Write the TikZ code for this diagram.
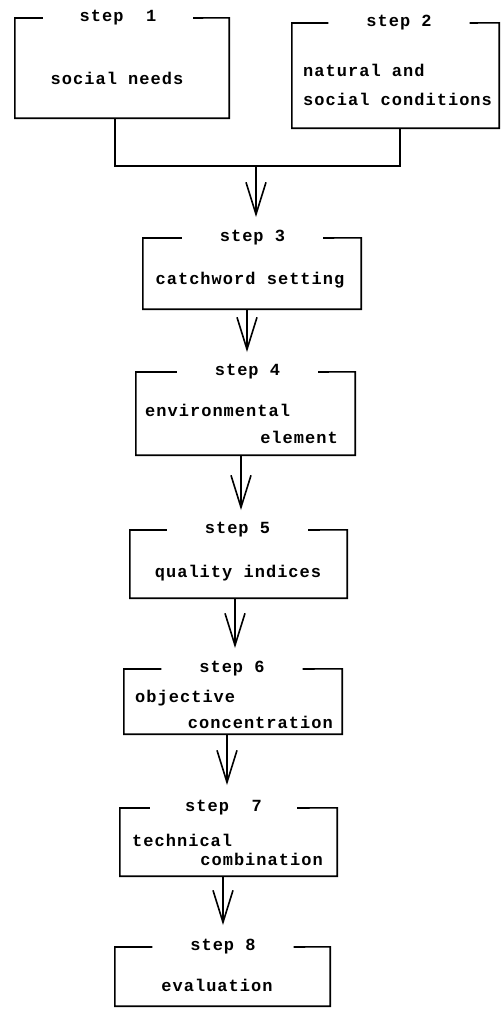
\documentclass[tikz,border=0pt]{standalone}
\usepackage{fontspec}
\newfontfamily\typed{Liberation Mono}[LetterSpace=6]
\usetikzlibrary{arrows.meta}
\begin{document}
\begin{tikzpicture}[x=1pt,y=-1pt,
  every node/.style={font=\typed\bfseries\fontsize{17}{20}\selectfont, inner sep=0pt},
  box/.style={rectangle, draw=none},
  title/.style={minimum width=141pt, minimum height=14pt},
  frame/.style={line width=1.6pt, line join=miter},
  link/.style={line width=1.6pt},
  flow/.style={line width=1.6pt, -{Straight Barb[length=32pt,width=20pt,line width=1.6pt]}},
]
\fill[white] (0,0) rectangle (501,1013);
\useasboundingbox (0,0) rectangle (501,1013);

% step 1
\node[box, minimum width=214pt, minimum height=100pt] (s1) at (122,68) {};
\node[title, minimum width=150pt] (t1) at (118,18) {step\ \ 1};
\draw[frame] (t1.west) -| (s1.south west) -| (s1.north east) -- (t1.east);
\node (b1) at (117,78) {social needs};

% step 2
\node[box, minimum width=207pt, minimum height=105pt] (s2) at (395.5,75.5) {};
\node[title] (t2) at (399,23) {step 2};
\draw[frame] (t2.west) -| (s2.south west) -| (s2.north east) -- (t2.east);
\node[anchor=west] (b2a) at (303,70) {natural and};
\node[anchor=west] (b2b) at (303,99) {social conditions};

% step 3
\node[box, minimum width=218pt, minimum height=71pt] (s3) at (252,273.5) {};
\node[title] (t3) at (252.5,238) {step 3};
\draw[frame] (t3.west) -| (s3.south west) -| (s3.north east) -- (t3.east);
\node (b3) at (250,280) {catchword setting};

% step 4
\node[box, minimum width=219pt, minimum height=83pt] (s4) at (245.5,413.5) {};
\node[title] (t4) at (247.5,372) {step 4};
\draw[frame] (t4.west) -| (s4.south west) -| (s4.north east) -- (t4.east);
\node[anchor=west] (b4a) at (145,410) {environmental};
\node[anchor=east] (b4b) at (338,437) {element};

% step 5
\node[box, minimum width=217pt, minimum height=68pt] (s5) at (238.5,564) {};
\node[title] (t5) at (237.5,530) {step 5};
\draw[frame] (t5.west) -| (s5.south west) -| (s5.north east) -- (t5.east);
\node (b5) at (238,573) {quality indices};

% step 6
\node[box, minimum width=218pt, minimum height=65pt] (s6) at (233,701.5) {};
\node[title] (t6) at (232,669) {step 6};
\draw[frame] (t6.west) -| (s6.south west) -| (s6.north east) -- (t6.east);
\node[anchor=west] (b6a) at (135,698) {objective};
\node[anchor=east] (b6b) at (333,722) {concentration};

% step 7
\node[box, minimum width=217pt, minimum height=68pt] (s7) at (228.5,842) {};
\node[title, minimum width=147pt] (t7) at (223.5,808) {step\ \ 7};
\draw[frame] (t7.west) -| (s7.south west) -| (s7.north east) -- (t7.east);
\node[anchor=west] (b7a) at (132,840) {technical};
\node[anchor=east] (b7b) at (323,859) {combination};

% step 8
\node[box, minimum width=215pt, minimum height=59pt] (s8) at (222.5,976.5) {};
\node[title] (t8) at (223,947) {step 8};
\draw[frame] (t8.west) -| (s8.south west) -| (s8.north east) -- (t8.east);
\node (b8) at (217,985) {evaluation};

% joining steps 1 and 2
\coordinate (j1) at (115,166);
\coordinate (j2) at (400,166);
\coordinate (jm) at (256,166);
\draw[link] (s1.south -| j1) -- (j1) -- (j2) -- (s2.south -| j2);

% arrow tips, each just above the next step
\coordinate (tip3) at (256,217);
\coordinate (tip4) at (247,352);
\coordinate (tip5) at (241,510);
\coordinate (tip6) at (235,648);
\coordinate (tip7) at (227,785);
\coordinate (tip8) at (223,925);

\draw[flow] (jm) -- (tip3);
\draw[flow] (s3.south -| tip4) -- (tip4);
\draw[flow] (s4.south -| tip5) -- (tip5);
\draw[flow] (s5.south -| tip6) -- (tip6);
\draw[flow] (s6.south -| tip7) -- (tip7);
\draw[flow] (s7.south -| tip8) -- (tip8);
\end{tikzpicture}
\end{document}
